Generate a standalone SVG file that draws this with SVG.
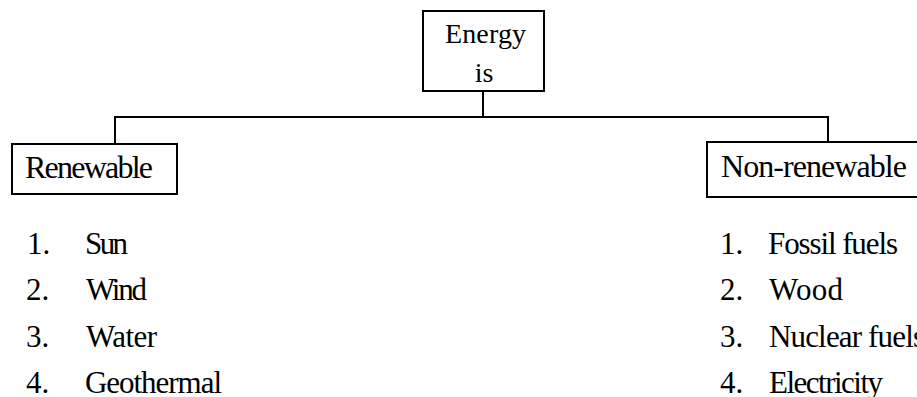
<svg xmlns="http://www.w3.org/2000/svg" width="917" height="397" viewBox="0 0 917 397">
<style>
.box{fill:#fff;stroke:#000;stroke-width:2}
.ln{fill:none;stroke:#000;stroke-width:2}
text{font-family:"Liberation Serif","Times New Roman",serif;fill:#000}
.e{font-size:28px}
.t{font-size:32px}
.i{font-size:31px}
</style>
<rect width="917" height="397" fill="#fff"/>
<g id="connectors">
<path class="ln" d="M483 91V117"/>
<path class="ln" d="M115 144V117H828V142"/>
</g>
<g id="energy">
<rect class="box" x="423" y="11" width="121" height="80"/>
<text class="e" x="445" y="43" textLength="81">Energy</text>
<text class="e" x="484" y="82" text-anchor="middle">is</text>
</g>
<g id="renewable">
<rect class="box" x="12" y="144" width="165" height="50"/>
<text class="t" x="25" y="178" textLength="128">Renewable</text>
</g>
<g id="nonrenewable">
<rect class="box" x="707" y="142" width="230" height="55"/>
<text class="t" x="721" y="177" textLength="186">Non-renewable</text>
</g>
<g id="renewable-list">
<text class="i" x="27" y="254">1.</text><text class="i" x="85" y="254" textLength="43">Sun</text>
<text class="i" x="26" y="300">2.</text><text class="i" x="86" y="300" textLength="61">Wind</text>
<text class="i" x="26" y="347">3.</text><text class="i" x="86" y="347" textLength="71">Water</text>
<text class="i" x="26" y="393">4.</text><text class="i" x="85" y="393" textLength="137">Geothermal</text>
</g>
<g id="nonrenewable-list">
<text class="i" x="720" y="254">1.</text><text class="i" x="768" y="254" textLength="130">Fossil fuels</text>
<text class="i" x="720" y="300">2.</text><text class="i" x="769" y="300" textLength="74">Wood</text>
<text class="i" x="720" y="347">3.</text><text class="i" x="769" y="347" textLength="156">Nuclear fuels</text>
<text class="i" x="720" y="393">4.</text><text class="i" x="769" y="393" textLength="114">Electricity</text>
</g>
</svg>
